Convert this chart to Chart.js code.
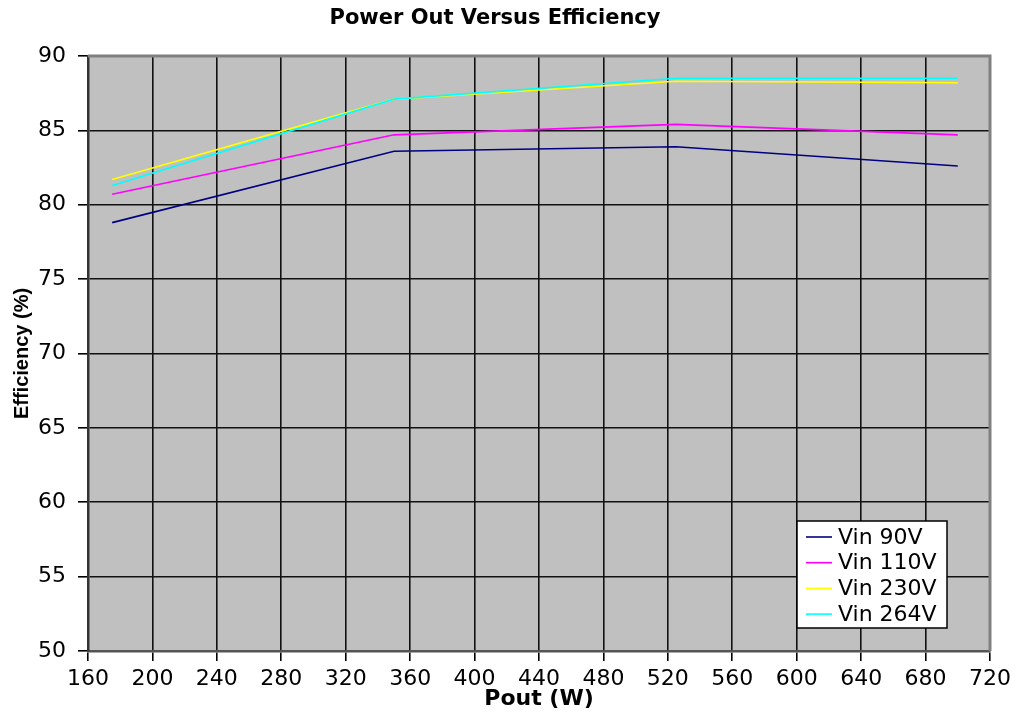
<!DOCTYPE html>
<html>
<head>
<meta charset="utf-8">
<script src="https://cdn.jsdelivr.net/npm/chart.js@4/dist/chart.umd.min.js"></script>
<style>
  html, body { margin: 0; padding: 0; background: #ffffff; }
  #wrap { width: 1016px; height: 713px; }
</style>
</head>
<body>
<div id="wrap"><canvas id="c" width="1016" height="713"></canvas></div>
<script>
// ---- data ----
const powerOut = [175, 350, 525, 700];
const vin90  = [78.8, 83.6, 83.9, 82.6];
const vin110 = [80.7, 84.7, 85.4, 84.7];
const vin230 = [81.7, 87.1, 88.3, 88.2];
const vin264 = [81.3, 87.1, 88.5, 88.5];
const seriesLabels = ['Vin 90V', 'Vin 110V', 'Vin 230V', 'Vin 264V'];
const seriesColors = ['#000080', '#FF00FF', '#FFFF00', '#00FFFF'];
const xTickValues = [160, 200, 240, 280, 320, 360, 400, 440, 480, 520, 560, 600, 640, 680, 720];
const yTickValues = [50, 55, 60, 65, 70, 75, 80, 85, 90];

const seriesValues = [vin90, vin110, vin230, vin264];
const datasets = seriesValues.map((vals, i) => ({
  label: seriesLabels[i],
  data: powerOut.map((x, j) => ({ x: x, y: vals[j] })),
  borderColor: seriesColors[i],
  backgroundColor: seriesColors[i],
  borderWidth: 1.6,
  pointRadius: 0,
  tension: 0,
  fill: false,
  order: 3 - i
}));

const plotStyle = {
  id: 'plotStyle',
  beforeDraw(chart) {
    const a = chart.chartArea, ctx = chart.ctx;
    ctx.save();
    ctx.fillStyle = '#C0C0C0';
    ctx.fillRect(a.left, a.top, a.right - a.left, a.bottom - a.top);
    ctx.restore();
  },
  beforeDatasetsDraw(chart) {
    const a = chart.chartArea, ctx = chart.ctx;
    ctx.save();
    ctx.strokeStyle = '#808080';
    ctx.lineWidth = 3;
    ctx.beginPath();
    ctx.moveTo(a.left, a.top);
    ctx.lineTo(a.right, a.top);
    ctx.lineTo(a.right, a.bottom);
    ctx.stroke();
    ctx.restore();
  },
  afterDraw(chart) {
    const a = chart.chartArea, ctx = chart.ctx;
    const bx = a.right - 193, by = a.bottom - 130, bw = 150, bh = 107;
    ctx.save();
    ctx.fillStyle = '#ffffff';
    ctx.fillRect(bx, by, bw, bh);
    ctx.strokeStyle = '#000000';
    ctx.lineWidth = 1.5;
    ctx.strokeRect(bx, by, bw, bh);
    ctx.font = '22px "DejaVu Sans"';
    ctx.textBaseline = 'middle';
    ctx.textAlign = 'left';
    chart.data.datasets.forEach((ds, i) => {
      const cy = by + 16 + i * 25.7;
      ctx.strokeStyle = ds.borderColor;
      ctx.lineWidth = 1.6;
      ctx.beginPath();
      ctx.moveTo(bx + 9, cy);
      ctx.lineTo(bx + 35, cy);
      ctx.stroke();
      ctx.fillStyle = '#000000';
      ctx.fillText(ds.label, bx + 41, cy + 1);
    });
    ctx.restore();
  }
};

new Chart(document.getElementById('c'), {
  type: 'line',
  data: { datasets: datasets },
  plugins: [plotStyle],
  options: {
    responsive: false,
    animation: false,
    layout: { padding: { left: 0, right: 26, top: 0, bottom: 0 } },
    plugins: {
      legend: { display: false },
      tooltip: { enabled: false },
      title: {
        display: true,
        text: 'Power Out Versus Efficiency',
        color: '#000000',
        font: { family: '"DejaVu Sans"', size: 21, weight: 'bold' },
        padding: { top: 6, bottom: 24.8 }
      }
    },
    scales: {
      x: {
        type: 'linear',
        min: 160, max: 720,
        afterBuildTicks(scale) { scale.ticks = xTickValues.map(v => ({ value: v })); },
        afterFit(scale) { scale.height = 62; },
        ticks: {
          color: '#000000',
          font: { family: '"DejaVu Sans"', size: 22 },
          padding: 5,
          maxRotation: 0,
          autoSkip: false
        },
        grid: {
          color: (c) => (c.tick && (c.tick.value === 720 || c.tick.value === 160)) ? 'rgba(0,0,0,0)' : '#111111',
          lineWidth: 1.6,
          tickColor: '#000000',
          tickLength: 10,
          drawTicks: true
        },
        border: { display: true, color: '#555555', width: 2.5 },
        title: {
          display: true,
          text: 'Pout (W)',
          color: '#000000',
          font: { family: '"DejaVu Sans"', size: 22, weight: 'bold' },
          padding: { top: 0, bottom: 1 }
        }
      },
      y: {
        type: 'linear',
        min: 50, max: 90,
        afterBuildTicks(scale) { scale.ticks = yTickValues.map(v => ({ value: v })); },
        afterFit(scale) { scale.width = 88; },
        ticks: {
          color: '#000000',
          font: { family: '"DejaVu Sans"', size: 22 },
          padding: 12
        },
        grid: {
          color: (c) => (c.tick && (c.tick.value === 90 || c.tick.value === 50)) ? 'rgba(0,0,0,0)' : '#111111',
          lineWidth: 1.6,
          tickColor: '#000000',
          tickLength: 10,
          drawTicks: true
        },
        border: { display: true, color: '#333333', width: 2.5 },
        title: {
          display: true,
          text: 'Efficiency (%)',
          color: '#000000',
          font: { family: '"Liberation Sans"', size: 20, weight: 'bold' },
          padding: { top: 10, bottom: 0 }
        }
      }
    }
  }
});
</script>
</body>
</html>
